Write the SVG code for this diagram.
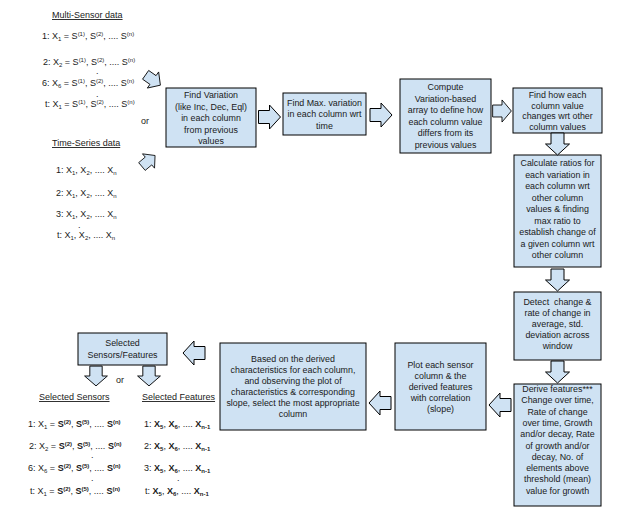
<svg xmlns="http://www.w3.org/2000/svg" width="639" height="519" viewBox="0 0 639 519">
<style>
text{font-family:"Liberation Sans",Arial,sans-serif;font-size:8.9px;fill:#1a1a1a}
.c{text-anchor:middle}
.l{font-size:9px}
.s{font-size:6px}
.u{text-decoration:underline}
.b{font-weight:bold}
.box{fill:#cfe2f3;stroke:#000;stroke-width:1}
.arr{fill:#cfe2f3;stroke:#000;stroke-width:1;stroke-linejoin:miter}
</style>
<defs>
<path id="arr" class="arr" d="M-11,-6.5 H0 V-12 L11,0 L0,12 V6.5 H-11 Z"/>
</defs>
<rect width="639" height="519" fill="#fff"/>

<g id="multi-sensor-data">
<text class="l u" x="52" y="18">Multi-Sensor data</text>
<text class="l" x="42" y="39">1: X<tspan class="s" dy="2">1</tspan><tspan dy="-2"> = S</tspan><tspan class="s" dy="-3.5">(1)</tspan><tspan dy="3.5">, S</tspan><tspan class="s" dy="-3.5">(2)</tspan><tspan dy="3.5">, .... S</tspan><tspan class="s" dy="-3.5">(n)</tspan></text>
<text class="l" x="43" y="65">2: X<tspan class="s" dy="2">2</tspan><tspan dy="-2"> = S</tspan><tspan class="s" dy="-3.5">(1)</tspan><tspan dy="3.5">, S</tspan><tspan class="s" dy="-3.5">(2)</tspan><tspan dy="3.5">, .... S</tspan><tspan class="s" dy="-3.5">(n)</tspan></text>
<text class="l" x="96" y="74">.</text>
<text class="l" x="42" y="86">6: X<tspan class="s" dy="2">6</tspan><tspan dy="-2"> = S</tspan><tspan class="s" dy="-3.5">(1)</tspan><tspan dy="3.5">, S</tspan><tspan class="s" dy="-3.5">(2)</tspan><tspan dy="3.5">, .... S</tspan><tspan class="s" dy="-3.5">(n)</tspan></text>
<text class="l" x="96" y="97">.</text>
<text class="l" x="45" y="107">t: X<tspan class="s" dy="2">1</tspan><tspan dy="-2"> = S</tspan><tspan class="s" dy="-3.5">(1)</tspan><tspan dy="3.5">, S</tspan><tspan class="s" dy="-3.5">(2)</tspan><tspan dy="3.5">, .... S</tspan><tspan class="s" dy="-3.5">(n)</tspan></text>
<text class="l" x="141" y="124">or</text>
</g>

<g id="time-series-data">
<text class="l u" x="52" y="146">Time-Series data</text>
<text class="l" x="56" y="173">1: X<tspan class="s" dy="2">1</tspan><tspan dy="-2">, X</tspan><tspan class="s" dy="2">2</tspan><tspan dy="-2">, .... X</tspan><tspan class="s" dy="2">n</tspan></text>
<text class="l" x="56" y="196">2: X<tspan class="s" dy="2">1</tspan><tspan dy="-2">, X</tspan><tspan class="s" dy="2">2</tspan><tspan dy="-2">, .... X</tspan><tspan class="s" dy="2">n</tspan></text>
<text class="l" x="56" y="217">3: X<tspan class="s" dy="2">1</tspan><tspan dy="-2">, X</tspan><tspan class="s" dy="2">2</tspan><tspan dy="-2">, .... X</tspan><tspan class="s" dy="2">n</tspan></text>
<text class="l" x="78" y="228">.</text>
<text class="l" x="57" y="238">t: X<tspan class="s" dy="2">1</tspan><tspan dy="-2">, X</tspan><tspan class="s" dy="2">2</tspan><tspan dy="-2">, .... X</tspan><tspan class="s" dy="2">n</tspan></text>
</g>

<g id="find-variation">
<rect class="box" x="166" y="88" width="90" height="59"/>
<text class="c"><tspan x="211" y="98">Find Variation</tspan><tspan x="211" y="109.5">(like Inc, Dec, Eql)</tspan><tspan x="211" y="121">in each column</tspan><tspan x="211" y="132.5">from previous</tspan><tspan x="211" y="144">values</tspan></text>
</g>

<g id="find-max-variation">
<rect class="box" x="283" y="93" width="83" height="42"/>
<text class="c"><tspan x="324.5" y="106">Find Max. variation</tspan><tspan x="324.5" y="117.3">in each column wrt</tspan><tspan x="324.5" y="128.6">time</tspan></text>
</g>

<g id="compute-variation-array">
<rect class="box" x="400" y="79" width="91" height="74"/>
<text class="c"><tspan x="445.5" y="90">Compute</tspan><tspan x="445.5" y="101.5">Variation-based</tspan><tspan x="445.5" y="113">array to define how</tspan><tspan x="445.5" y="124.5">each column value</tspan><tspan x="445.5" y="136">differs from its</tspan><tspan x="445.5" y="147.5">previous values</tspan></text>
</g>

<g id="find-how-column-changes">
<rect class="box" x="513" y="88" width="89" height="45"/>
<text class="c"><tspan x="557.5" y="98">Find how each</tspan><tspan x="557.5" y="108.5">column value</tspan><tspan x="557.5" y="119">changes wrt other</tspan><tspan x="557.5" y="129.5">column values</tspan></text>
</g>

<g id="calculate-ratios">
<rect class="box" x="514" y="155" width="87" height="112"/>
<text class="c"><tspan x="557.5" y="166">Calculate ratios for</tspan><tspan x="557.5" y="177.5">each variation in</tspan><tspan x="557.5" y="189">each column wrt</tspan><tspan x="557.5" y="200.5">other column</tspan><tspan x="557.5" y="212">values &amp; finding</tspan><tspan x="557.5" y="223.5">max ratio to</tspan><tspan x="557.5" y="235">establish change of</tspan><tspan x="557.5" y="246.5">a given column wrt</tspan><tspan x="557.5" y="258">other column</tspan></text>
</g>

<g id="detect-change">
<rect class="box" x="514" y="292" width="87" height="68"/>
<text class="c" xml:space="preserve"><tspan x="557.5" y="305">Detect  change &amp;</tspan><tspan x="557.5" y="316">rate of change in</tspan><tspan x="557.5" y="327">average, std.</tspan><tspan x="557.5" y="338">deviation across</tspan><tspan x="557.5" y="349">window</tspan></text>
</g>

<g id="derive-features">
<rect class="box" x="514" y="384" width="87" height="122"/>
<text class="c"><tspan x="557.5" y="392">Derive features***</tspan><tspan x="557.5" y="403.3">Change over time,</tspan><tspan x="557.5" y="414.6">Rate of change</tspan><tspan x="557.5" y="425.9">over time, Growth</tspan><tspan x="557.5" y="437.2">and/or decay, Rate</tspan><tspan x="557.5" y="448.5">of growth and/or</tspan><tspan x="557.5" y="459.8">decay, No. of</tspan><tspan x="557.5" y="471.1">elements above</tspan><tspan x="557.5" y="482.4">threshold (mean)</tspan><tspan x="557.5" y="493.7">value for growth</tspan></text>
</g>

<g id="plot-sensor-column">
<rect class="box" x="395" y="343" width="91" height="87"/>
<text class="c"><tspan x="440.5" y="368">Plot each sensor</tspan><tspan x="440.5" y="379">column &amp; the</tspan><tspan x="440.5" y="390">derived features</tspan><tspan x="440.5" y="401">with correlation</tspan><tspan x="440.5" y="412">(slope)</tspan></text>
</g>

<g id="select-column">
<rect class="box" x="220" y="343" width="146" height="87"/>
<text class="c"><tspan x="293" y="362">Based on the derived</tspan><tspan x="293" y="373">characteristics for each column,</tspan><tspan x="293" y="384">and observing the plot of</tspan><tspan x="293" y="395">characteristics &amp; corresponding</tspan><tspan x="293" y="406">slope, select the most appropriate</tspan><tspan x="293" y="417">column</tspan></text>
</g>

<g id="selected-sensors-features">
<rect class="box" x="78" y="333" width="89" height="32"/>
<text class="c"><tspan x="122.5" y="346">Selected</tspan><tspan x="122.5" y="358">Sensors/Features</tspan></text>
<text class="l" x="116" y="383">or</text>
</g>

<g id="selected-sensors">
<text class="l u" x="39" y="400">Selected Sensors</text>
<text class="l" x="28" y="427">1: X<tspan class="s" dy="2">1</tspan><tspan dy="-2"> = </tspan><tspan class="b">S</tspan><tspan class="s b" dy="-3.5">(2)</tspan><tspan dy="3.5">, </tspan><tspan class="b">S</tspan><tspan class="s b" dy="-3.5">(5)</tspan><tspan dy="3.5">, .... </tspan><tspan class="b">S</tspan><tspan class="s b" dy="-3.5">(n)</tspan></text>
<text class="l" x="29" y="449">2: X<tspan class="s" dy="2">2</tspan><tspan dy="-2"> = </tspan><tspan class="b">S</tspan><tspan class="s b" dy="-3.5">(2)</tspan><tspan dy="3.5">, </tspan><tspan class="b">S</tspan><tspan class="s b" dy="-3.5">(5)</tspan><tspan dy="3.5">, .... </tspan><tspan class="b">S</tspan><tspan class="s b" dy="-3.5">(n)</tspan></text>
<text class="l" x="91" y="458">.</text>
<text class="l" x="28" y="471">6: X<tspan class="s" dy="2">6</tspan><tspan dy="-2"> = </tspan><tspan class="b">S</tspan><tspan class="s b" dy="-3.5">(2)</tspan><tspan dy="3.5">, </tspan><tspan class="b">S</tspan><tspan class="s b" dy="-3.5">(5)</tspan><tspan dy="3.5">, .... </tspan><tspan class="b">S</tspan><tspan class="s b" dy="-3.5">(n)</tspan></text>
<text class="l" x="91" y="481">.</text>
<text class="l" x="30" y="494">t: X<tspan class="s" dy="2">1</tspan><tspan dy="-2"> = </tspan><tspan class="b">S</tspan><tspan class="s b" dy="-3.5">(2)</tspan><tspan dy="3.5">, </tspan><tspan class="b">S</tspan><tspan class="s b" dy="-3.5">(5)</tspan><tspan dy="3.5">, .... </tspan><tspan class="b">S</tspan><tspan class="s b" dy="-3.5">(n)</tspan></text>
</g>

<g id="selected-features">
<text class="l u" x="142" y="400">Selected Features</text>
<text class="l" x="144" y="427">1: <tspan class="b">X</tspan><tspan class="s b" dy="2">5</tspan><tspan dy="-2">, </tspan><tspan class="b">X</tspan><tspan class="s b" dy="2">6</tspan><tspan dy="-2">, .... </tspan><tspan class="b">X</tspan><tspan class="s b" dy="2">n-1</tspan></text>
<text class="l" x="144" y="449">2: <tspan class="b">X</tspan><tspan class="s b" dy="2">5</tspan><tspan dy="-2">, </tspan><tspan class="b">X</tspan><tspan class="s b" dy="2">6</tspan><tspan dy="-2">, .... </tspan><tspan class="b">X</tspan><tspan class="s b" dy="2">n-1</tspan></text>
<text class="l" x="144" y="471">3: <tspan class="b">X</tspan><tspan class="s b" dy="2">5</tspan><tspan dy="-2">, </tspan><tspan class="b">X</tspan><tspan class="s b" dy="2">6</tspan><tspan dy="-2">, .... </tspan><tspan class="b">X</tspan><tspan class="s b" dy="2">n-1</tspan></text>
<text class="l" x="177" y="481">.</text>
<text class="l" x="145" y="494">t: <tspan class="b">X</tspan><tspan class="s b" dy="2">5</tspan><tspan dy="-2">, </tspan><tspan class="b">X</tspan><tspan class="s b" dy="2">6</tspan><tspan dy="-2">, .... </tspan><tspan class="b">X</tspan><tspan class="s b" dy="2">n-1</tspan></text>
</g>

<g id="connectors">
<use href="#arr" transform="translate(153,80) rotate(35) scale(0.82)"/>
<use href="#arr" transform="translate(148.5,161) rotate(-40) scale(0.78)"/>
<use href="#arr" transform="translate(269.5,117)"/>
<use href="#arr" transform="translate(381,115)"/>
<use href="#arr" transform="translate(502,111) scale(0.85,0.92)"/>
<use href="#arr" transform="translate(557.5,144) rotate(90)"/>
<use href="#arr" transform="translate(557.5,280) rotate(90)"/>
<use href="#arr" transform="translate(557.5,372) rotate(90)"/>
<use href="#arr" transform="translate(500,405) rotate(180)"/>
<use href="#arr" transform="translate(380,403) rotate(180)"/>
<use href="#arr" transform="translate(194,353) rotate(180)"/>
<use href="#arr" transform="translate(96,376) rotate(90) scale(0.9,0.95)"/>
<use href="#arr" transform="translate(149,376) rotate(90) scale(0.9,0.95)"/>
</g>
</svg>
